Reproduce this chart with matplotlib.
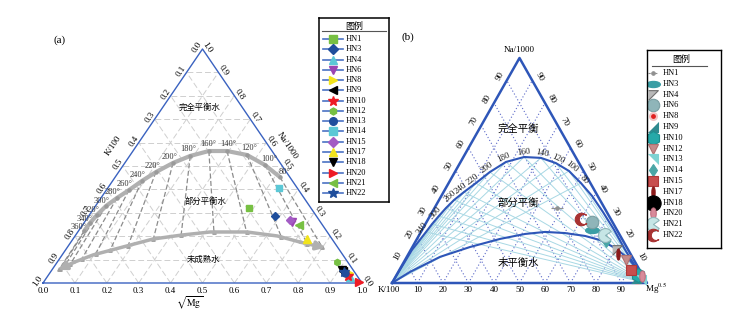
import numpy as np
import matplotlib.pyplot as plt
from matplotlib.path import Path
from matplotlib.transforms import Affine2D

plt.rcParams['font.family'] = ['Liberation Serif', 'Noto Sans CJK SC']
plt.rcParams['mathtext.fontset'] = 'stix'

# ---------------- 数据 ----------------
samples = ['HN1', 'HN3', 'HN4', 'HN6', 'HN8', 'HN9', 'HN10', 'HN12',
           'HN13', 'HN14', 'HN15', 'HN17', 'HN18', 'HN20', 'HN21', 'HN22']

# (a) 组成分数: Na/1000, sqrt(Mg)   (K/100 = 1 - Na - Mg)
na_a = [0.319, 0.288, 0.026, 0.262, 0.043, 0.051, 0.030, 0.091,
        0.043, 0.406, 0.269, 0.188, 0.056, 0.006, 0.248, 0.047]
mg_a = [0.485, 0.583, 0.949, 0.651, 0.938, 0.915, 0.942, 0.875,
        0.925, 0.537, 0.640, 0.733, 0.908, 0.989, 0.679, 0.920]

# (b)
na_b = [0.333, 0.236, 0.147, 0.271, 0.013, 0.022, 0.036, 0.102,
        0.013, 0.187, 0.058, 0.129, 0.036, 0.031, 0.213, 0.284]
mg_b = [0.480, 0.666, 0.809, 0.649, 0.954, 0.946, 0.947, 0.867,
        0.970, 0.746, 0.908, 0.822, 0.947, 0.965, 0.729, 0.599]

# (a) 完全平衡线 (温度点)
temp_a = [360, 340, 320, 300, 280, 260, 240, 220, 200, 180, 160, 140, 120, 100, 80]
na_up_a = [0.222, 0.256, 0.291, 0.329, 0.363, 0.397, 0.436, 0.474, 0.513,
           0.543, 0.564, 0.564, 0.547, 0.504, 0.453]
mg_up_a = [0.018, 0.019, 0.024, 0.033, 0.050, 0.071, 0.092, 0.117, 0.151,
           0.190, 0.238, 0.295, 0.366, 0.444, 0.516]
# (a) 部分平衡/未成熟分界线
na_lo_a = [0.056, 0.090, 0.120, 0.162, 0.188, 0.205, 0.218, 0.218, 0.201, 0.175, 0.150]
mg_lo_a = [0.019, 0.055, 0.097, 0.192, 0.251, 0.333, 0.415, 0.530, 0.634, 0.718, 0.809]

# (b) 完全平衡线
temp_b = [340, 320, 300, 280, 260, 240, 220, 200, 180, 160, 140, 120, 100, 80]
shown_b = [340, 300, 260, 240, 220, 200, 180, 160, 140, 120, 100, 80]
na_up_b = [0.227, 0.262, 0.298, 0.333, 0.369, 0.404, 0.444, 0.493, 0.538,
           0.560, 0.556, 0.533, 0.498, 0.444]
mg_up_b = [0.020, 0.026, 0.035, 0.045, 0.059, 0.080, 0.107, 0.137, 0.178,
           0.238, 0.306, 0.376, 0.445, 0.519]
na_head_b = [0.0, 0.067, 0.147]
mg_head_b = [0.0, 0.002, 0.005]
na_tail_b = [0.387, 0.316, 0.236, 0.147, 0.067, 0.0]
mg_tail_b = [0.591, 0.669, 0.753, 0.841, 0.924, 1.0]
# (b) 未平衡线
na_lo_b = [0, 0.049, 0.116, 0.160, 0.196, 0.218, 0.227, 0.222, 0.209, 0.191, 0.156, 0.111, 0.058, 0]
mg_lo_b = [0, 0.046, 0.130, 0.226, 0.326, 0.413, 0.487, 0.567, 0.653, 0.720, 0.797, 0.869, 0.936, 1.0]

ticks_a = [i / 10 for i in range(11)]
ticks_b = [10, 20, 30, 40, 50, 60, 70, 80, 90]

# ---------------- 样式 ----------------
sty_a = {'HN1': ('s', '#77c043', 5), 'HN3': ('D', '#1f4e9c', 4.5), 'HN4': ('^', '#5bc8d6', 5.5),
         'HN6': ('v', '#9b45b2', 5.5), 'HN8': ('>', '#f2e41c', 5.5), 'HN9': ('<', 'k', 5.5),
         'HN10': ('*', '#ee1c25', 7), 'HN12': ('h', '#77c043', 4.5), 'HN13': ('o', '#1f4e9c', 5),
         'HN14': ('s', '#5bc8d6', 5), 'HN15': ('D', '#a35cc4', 4.5), 'HN17': ('^', '#f2e41c', 5.5),
         'HN18': ('v', 'k', 5.5), 'HN20': ('>', '#ee1c25', 5.5), 'HN21': ('<', '#77c043', 5.5),
         'HN22': ('*', '#1f4e9c', 7)}

ell_h = Path.unit_circle().transformed(Affine2D().scale(1.0, 0.45))
ell_v = Path.unit_circle().transformed(Affine2D().scale(0.3, 1.0))
ell_v2 = Path.unit_circle().transformed(Affine2D().scale(0.5, 1.0))
pacman = Path.wedge(35, 325)
th1 = np.radians(np.linspace(40, 320, 30))
th2 = np.radians(np.linspace(300, 60, 30))
crescent = list(zip(np.cos(th1), np.sin(th1))) + list(zip(0.45 + 0.8 * np.cos(th2), 0.8 * np.sin(th2)))
sty_b = {'HN1': ('o', '#909090', '#909090', 2.5), 'HN3': (ell_h, '#3a9ea5', '#3a9ea5', 10),
         'HN4': ([(-1, 1), (1, 1), (-1, -1)], '#b8b8b8', '#707070', 7),
         'HN6': ('o', '#8fb5b9', '#7a9ea2', 9), 'HN8': ('o', '#e02020', '#f2c4c4', 5),
         'HN9': ([(1, 1), (1, -1), (-1, -1)], '#2f8a8f', '#2f8a8f', 7),
         'HN10': ('h', '#26a9a9', '#1d8f8f', 10), 'HN12': ('v', '#c68a8a', '#b07070', 7),
         'HN13': ([(-1, 1), (1, 1), (1, -1)], '#7fd3d3', '#7fd3d3', 7),
         'HN14': ('d', '#4aa6a6', '#4aa6a6', 6), 'HN15': ('s', '#c84e4e', '#b03a3a', 7),
         'HN17': (ell_v, '#8b1a1a', '#8b1a1a', 8), 'HN18': ('o', 'k', 'k', 7),
         'HN20': (ell_v2, '#d88a9a', '#c07080', 8), 'HN21': (pacman, '#c6e6e6', '#8fb5b9', 10),
         'HN22': (crescent, '#a83232', '#a83232', 9)}
sty_b_leg = dict(sty_b, HN18=('o', 'k', 'k', 11))

# ---------------- 画布 ----------------
W, H = 743, 313
fig = plt.figure(figsize=(W / 100, H / 100), dpi=100)


def box(x0, y0, x1, y1):
    return [x0 / W, 1 - y1 / H, (x1 - x0) / W, (y1 - y0) / H]


def xy(na, mg):
    na = np.asarray(na, float)
    mg = np.asarray(mg, float)
    return mg + na / 2, na


def sang(ax, p, q):
    a, b = ax.transData.transform([p, q])
    return np.degrees(np.arctan2(b[1] - a[1], b[0] - a[0]))


def edge_text(ax, p, txt, ang, off, along=0.0, **kw):
    t = np.radians(ang)
    n = np.array([-np.sin(t), np.cos(t)])
    d = np.array([np.cos(t), np.sin(t)])
    o = n * off + d * along
    ax.annotate(txt, xy=p, xytext=(o[0], o[1]), textcoords='offset pixels',
                rotation=ang, rotation_mode='anchor', ha='center', va='center',
                annotation_clip=False, **kw)


axA = fig.add_axes(box(43, 49, 362, 283))
axB = fig.add_axes(box(392, 58, 647, 283))
for ax in (axA, axB):
    ax.set_xlim(0, 1)
    ax.set_ylim(0, 1)
    ax.axis('off')

# ================= (a) =================
for v in np.arange(1, 10) / 10:
    for seg in [((v, 0), (v, 1 - v)), ((0, v), (1 - v, v)), ((0, 1 - v), (1 - v, 0))]:
        x, y = xy([seg[0][0], seg[1][0]], [seg[0][1], seg[1][1]])
        axA.plot(x, y, color='#cfcfcf', lw=0.7, dashes=(6, 3), zorder=1)

ux, uy = xy(na_up_a, mg_up_a)
lx, ly = xy(na_lo_a, mg_lo_a)
apex = np.array([0.5, 1.0])


def hit(p):
    d = p - apex
    for i in range(len(lx) - 1):
        a = np.array([lx[i], ly[i]])
        e = np.array([lx[i + 1], ly[i + 1]]) - a
        M = np.array([d, -e]).T
        if abs(np.linalg.det(M)) < 1e-12:
            continue
        t, s = np.linalg.solve(M, a - apex)
        if t > 1 and -0.4 <= s <= 1:
            return apex + t * d
    return None


for px, py in zip(ux, uy):
    q = hit(np.array([px, py]))
    if q is not None:
        axA.plot([px, q[0]], [py, q[1]], color='#8c8c8c', lw=0.9, dashes=(4, 2), zorder=2)
        axA.plot(q[0], q[1], marker='^', ms=2.5, color='#a0a0a0', zorder=3)

axA.plot(ux, uy, color='#b0b0b0', lw=3, solid_capstyle='round', zorder=3)
axA.plot(ux, uy, 'o', ms=2.2, color='#9a9a9a', zorder=4)
axA.plot(lx[1:-1], ly[1:-1], color='#b0b0b0', lw=2.5, zorder=3)
for a, b in [(1, 0), (-2, -1)]:
    axA.annotate('', xy=(lx[b], ly[b]), xytext=(lx[a], ly[a]),
                 arrowprops=dict(arrowstyle='-|>,head_length=0.5,head_width=0.25',
                                 color='#b0b0b0', lw=2.5, shrinkA=0, shrinkB=0), zorder=3)

for i, T in enumerate(temp_a):
    i0, i1 = max(i - 1, 0), min(i + 1, len(ux) - 1)
    ang = sang(axA, (ux[i0], uy[i0]), (ux[i1], uy[i1]))
    t = np.radians(ang)
    axA.annotate(f'{T}°', xy=(ux[i], uy[i]), xytext=(-np.sin(t) * 7, np.cos(t) * 7),
                 textcoords='offset pixels', ha='center', va='center', fontsize=6,
                 color='#333333', zorder=5)

tri = np.array([[0, 0], [1, 0], [0.5, 1], [0, 0]])
axA.plot(tri[:, 0], tri[:, 1], color='#3a62c0', lw=1, clip_on=False, zorder=4)

a_left = sang(axA, (0, 0), (0.5, 1))
a_right = sang(axA, (0.5, 1), (1, 0))
for v in ticks_a:
    axA.annotate(f'{v:.1f}', xy=(v, 0), xytext=(0, -8), textcoords='offset pixels',
                 ha='center', va='center', fontsize=6.5, annotation_clip=False)
    edge_text(axA, xy(1 - v, 0), f'{v:.1f}', a_left, 5, -1.5, fontsize=6.5)
    edge_text(axA, xy(v, 1 - v), f'{v:.1f}', a_right, 5, 1.5, fontsize=6.5)
edge_text(axA, xy(0.54, 0), 'K/100', a_left, 19, fontsize=6.5)
edge_text(axA, xy(0.55, 0.45), 'Na/1000', a_right, 16, fontsize=6.5)
axA.annotate(r'$\sqrt{\mathrm{Mg}}$', xy=(0.46, 0), xytext=(0, -20), textcoords='offset pixels',
             ha='center', va='center', fontsize=7, annotation_clip=False)

for pos, txt in [((0.492, 0.752), '完全平衡水'), ((0.508, 0.350), '部分平衡水'), ((0.502, 0.103), '未成熟水')]:
    axA.text(pos[0], pos[1], txt, ha='center', va='center', fontsize=6,
             family=['Noto Sans CJK SC'], zorder=5)

px_a, py_a = xy(na_a, mg_a)
for s, x, y in zip(samples, px_a, py_a):
    m, c, ms = sty_a[s]
    axA.plot(x, y, marker=m, color=c, mec=c, ms=ms, ls='none', clip_on=False, zorder=6)

# ================= (b) =================
for v in np.arange(1, 10) / 10:
    axB.plot([v, v + 0.5 * (1 - v)], [0, 1 - v], color='#5a68c8', lw=0.8, ls=(0, (1, 2)), zorder=1)
    axB.plot([v, 0.5 * v], [0, v], color='#5a68c8', lw=0.8, ls=(0, (1, 2)), zorder=1)

bx, by = xy(na_up_b, mg_up_b)
for x, y in zip(bx, by):
    axB.plot([0, x], [0, y], color='#a8d8e4', lw=0.7, zorder=2)
    axB.plot([1, x], [0, y], color='#a8d8e4', lw=0.7, zorder=2)

cx, cy = xy(na_head_b + na_up_b + na_tail_b, mg_head_b + mg_up_b + mg_tail_b)
axB.plot(cx, cy, color='#2e56b8', lw=1.5, zorder=3)
lbx, lby = xy(na_lo_b, mg_lo_b)
axB.plot(lbx, lby, color='#2e56b8', lw=1.5, zorder=3)

for i, T in enumerate(temp_b):
    if T not in shown_b:
        continue
    i0, i1 = max(i - 1, 0), min(i + 1, len(bx) - 1)
    ang = sang(axB, (bx[i0], by[i0]), (bx[i1], by[i1]))
    edge_text(axB, (bx[i], by[i]), str(T), ang, 5, fontsize=6.5, color='#222222', zorder=5)

axB.plot(tri[:, 0], tri[:, 1], color='#2e56b8', lw=1.8, clip_on=False, zorder=4)
b_left = sang(axB, (0, 0), (0.5, 1))
b_right = sang(axB, (0.5, 1), (1, 0))
for v in ticks_b:
    f = v / 100
    axB.annotate(str(v), xy=(f, 0), xytext=(0, -7), textcoords='offset pixels',
                 ha='center', va='center', fontsize=6.5, annotation_clip=False)
    edge_text(axB, xy(f, 0), str(v), b_left, 8, fontsize=6.5)
    edge_text(axB, xy(f, 1 - f), str(v), b_right, 8, fontsize=6.5)
axB.annotate('K/100', xy=(0, 0), xytext=(-3, -7), textcoords='offset pixels',
             ha='center', va='center', fontsize=6.5, annotation_clip=False)
axB.annotate(r'Mg$^{0.5}$', xy=(1, 0), xytext=(9, -6), textcoords='offset pixels',
             ha='center', va='center', fontsize=6.5, annotation_clip=False)
axB.annotate('Na/1000', xy=(0.5, 1), xytext=(0, 8), textcoords='offset pixels',
             ha='center', va='center', fontsize=6.5, annotation_clip=False)

for pos, txt in [((0.494, 0.684), '完全平衡'), ((0.494, 0.356), '部分平衡'), ((0.494, 0.089), '未平衡水')]:
    axB.text(pos[0], pos[1], txt, ha='center', va='center', fontsize=7.5,
             family=['Noto Sans CJK SC'], zorder=5)

px_b, py_b = xy(na_b, mg_b)
order = sorted(range(len(samples)), key=lambda i: samples[i] != 'HN18')
for i in order:
    s = samples[i]
    m, fc, ec, ms = sty_b[s]
    if s == 'HN1':
        axB.plot(px_b[i], py_b[i], marker='_', color='#909090', ms=8, mew=0.8, zorder=6)
    axB.plot(px_b[i], py_b[i], marker=m, mfc=fc, mec=ec, ms=ms, mew=0.8 if s != 'HN8' else 1.5,
             ls='none', clip_on=False, zorder=6)

# ================= 图例 =================
lgA = fig.add_axes(box(319, 18, 389, 202))
lgA.set_xlim(0, 70)
lgA.set_ylim(184, 0)
lgA.set_xticks([])
lgA.set_yticks([])
for sp in lgA.spines.values():
    sp.set_linewidth(1.1)
lgA.text(35, 8.5, '图例', ha='center', va='center', fontsize=6.5, family=['Noto Sans CJK SC'])
lgA.plot([3, 67], [13, 13], color='#555555', lw=0.8)
for i, s in enumerate(samples):
    y = 21 + i * 10.27
    m, c, ms = sty_a[s]
    lgA.plot([4, 24], [y, y], color='#4a72c4', lw=1.2)
    lgA.plot(14, y, marker=m, color=c, mec=c, ms=ms + 0.5)
    lgA.text(27, y, s, ha='left', va='center', fontsize=6)

lgB = fig.add_axes(box(647, 50, 721, 248))
lgB.set_xlim(0, 74)
lgB.set_ylim(198, 0)
lgB.set_xticks([])
lgB.set_yticks([])
for sp in lgB.spines.values():
    sp.set_linewidth(1.0)
lgB.text(34, 9, '图例', ha='center', va='center', fontsize=6.5, family=['Noto Sans CJK SC'])
lgB.plot([5, 60], [16, 16], color='#555555', lw=0.8)
for i, s in enumerate(samples):
    y = 23 + i * 10.8
    m, fc, ec, ms = sty_b_leg[s]
    if s == 'HN1':
        lgB.plot([1, 11], [y, y], color='#909090', lw=0.8, ls=(0, (2, 1)))
    lgB.plot(6, y, marker=m, mfc=fc, mec=ec, ms=ms, mew=0.8 if s != 'HN8' else 1.5)
    lgB.text(15.5, y, s, ha='left', va='center', fontsize=6)

fig.text(60 / W, 1 - 40 / H, '(a)', ha='center', va='center', fontsize=8)
fig.text(408 / W, 1 - 37 / H, '(b)', ha='center', va='center', fontsize=8)

fig.savefig('out.png', dpi=100)
